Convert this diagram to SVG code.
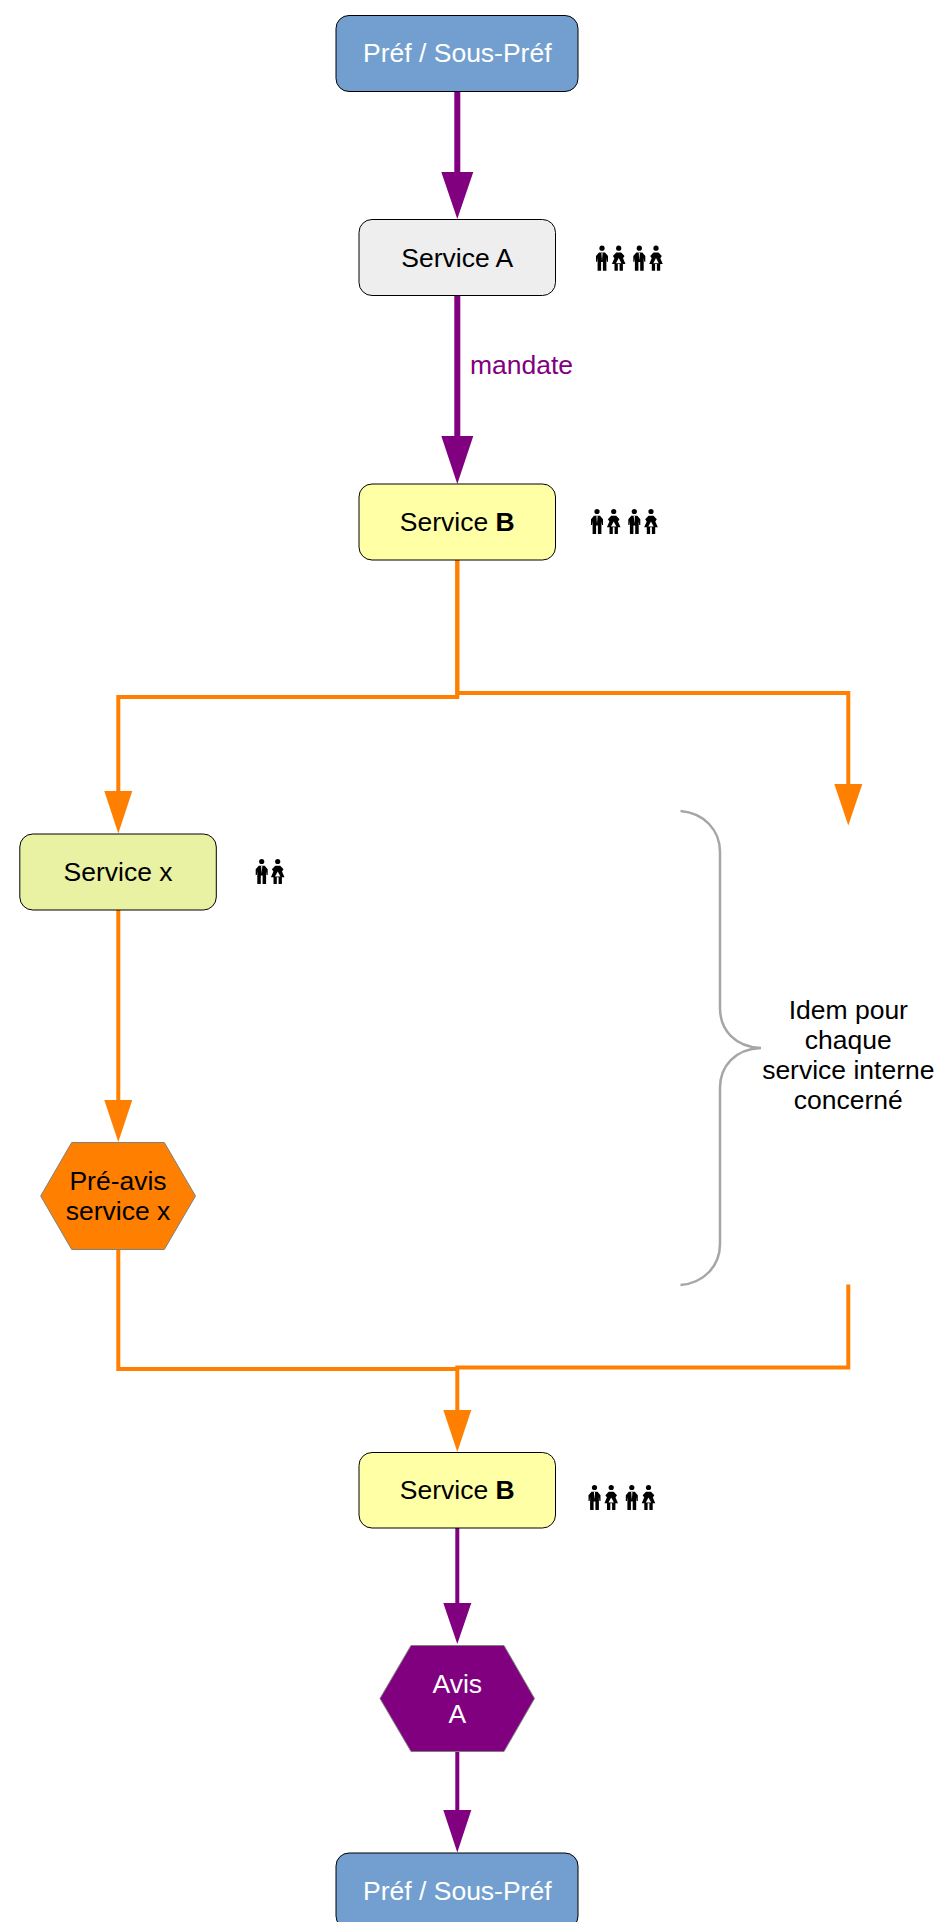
<svg xmlns="http://www.w3.org/2000/svg" width="940" height="1922" viewBox="0 0 940 1922">
<style>
text{font-family:"Liberation Sans",Arial,sans-serif;font-size:26.5px;text-anchor:middle;fill:#000}
.w{fill:#fff}
.box{stroke:#000;stroke-width:1}
.hex{stroke:#808080;stroke-width:1}
.o{fill:none;stroke:#ff8000;stroke-width:4}
.p{fill:none;stroke:#800080;stroke-width:4}
.pt{fill:none;stroke:#800080;stroke-width:6}
.oh{fill:#ff8000}
.ph{fill:#800080}
</style>
<defs>
<g id="man"><circle cx="0" cy="-10.500" r="2.600"/><path d="M-3-6.200H3L6-2.800V3H4.900L4.400-1V3.200V12H.9V3.400H-.9V12H-4.400V3.200V-1L-4.900 3H-6V-2.800Z"/><path d="M-.6-6H.6L0 2Z" fill="#fff"/></g>
<g id="woman"><circle cx="0" cy="-10.500" r="2.600"/><path d="M-2.500-6.200H2.500L5.800-2.800L4.300-.5L6.800 5.200H4.200V12H.9V5.200H-.9V12H-4.200V5.200H-6.800L-4.300-.5L-5.800-2.800Z"/><path d="M0-.6L2.700 4.600H-2.700Z" fill="#fff"/></g>
<g id="four"><use href="#man" x="0"/><use href="#woman" x="16.700"/><use href="#man" x="37.300"/><use href="#woman" x="54"/></g>
</defs>
<g id="connectors">
<path class="pt" d="M457.300 91V175"/><path class="ph" d="M441.300 172H473.300L457.300 219Z"/>
<path class="pt" d="M457.300 295V439"/><path class="ph" d="M441.300 436H473.300L457.300 484Z"/>
<path class="o" d="M457.300 560V697H118.300V794"/><path class="oh" d="M104.300 791H132.300L118.300 833.500Z"/>
<path class="o" d="M457.300 560V693H848.300V786"/><path class="oh" d="M834.300 784H862.300L848.300 825.500Z"/>
<path class="o" d="M118.300 910V1103"/><path class="oh" d="M104.300 1100H132.300L118.300 1142Z"/>
<path class="o" d="M118.300 1249V1369H457.300"/>
<path class="o" d="M848.300 1284.500V1367.500H457.300V1413"/><path class="oh" d="M443.300 1410H471.300L457.300 1452Z"/>
<path class="p" d="M457.300 1527V1606"/><path class="ph" d="M443.300 1603H471.300L457.300 1644Z"/>
<path class="p" d="M457.300 1751V1813"/><path class="ph" d="M443.300 1810H471.300L457.300 1852.500Z"/>
</g>
<g id="n1"><rect class="box" x="336" y="15.500" width="242" height="76" rx="13" fill="#729fcf"/><text class="w" x="457.300" y="62">Préf / Sous-Préf</text></g>
<g id="n2"><rect class="box" x="359" y="219.500" width="196.500" height="76" rx="13" fill="#eeeeee"/><text x="457.300" y="267">Service A</text></g>
<g id="n3"><rect class="box" x="359" y="484" width="196.500" height="76" rx="13" fill="#ffffa6"/><text x="457.300" y="531">Service <tspan font-weight="bold">B</tspan></text></g>
<g id="n4"><rect class="box" x="19.800" y="834" width="196.500" height="76" rx="13" fill="#e8f2a2"/><text x="118" y="881">Service x</text></g>
<g id="n5"><path class="hex" d="M71.700 1142.500H164.300L195.500 1196L164.300 1249.500H71.700L40.700 1196Z" fill="#ff8000"/><text x="118" y="1190">Pré-avis</text><text x="118" y="1220">service x</text></g>
<g id="n6"><rect class="box" x="359" y="1452.500" width="196.500" height="75.500" rx="13" fill="#ffffa6"/><text x="457.300" y="1499">Service <tspan font-weight="bold">B</tspan></text></g>
<g id="n7"><path class="hex" d="M411 1645.500H504L534.500 1698.500L504 1751.500H411L380 1698.500Z" fill="#800080"/><text class="w" x="457.300" y="1693">Avis</text><text class="w" x="457.300" y="1723">A</text></g>
<g id="n8"><rect class="box" x="336" y="1853" width="242" height="76" rx="13" fill="#729fcf"/><text class="w" x="457.300" y="1900">Préf / Sous-Préf</text></g>
<g id="label-mandate"><text x="521.500" y="374" style="fill:#800080">mandate</text></g>
<g id="people">
<use href="#four" x="602" y="258.700"/>
<use href="#four" x="597" y="522"/>
<use href="#four" x="594.500" y="1498"/>
<use href="#man" x="261.700" y="872"/><use href="#woman" x="277.700" y="872"/>
</g>
<g id="brace">
<path d="M680.500 811C704 813 720 830 720 852V1008C720 1030 735 1047 761 1048C735 1049 720 1066 720 1088V1244C720 1266 704 1283 680.500 1285" fill="none" stroke="#a6a6a6" stroke-width="2.500"/>
<text x="848.300" y="1019">Idem pour</text><text x="848.300" y="1049">chaque</text><text x="848.300" y="1079">service interne</text><text x="848.300" y="1109">concerné</text>
</g>
</svg>
